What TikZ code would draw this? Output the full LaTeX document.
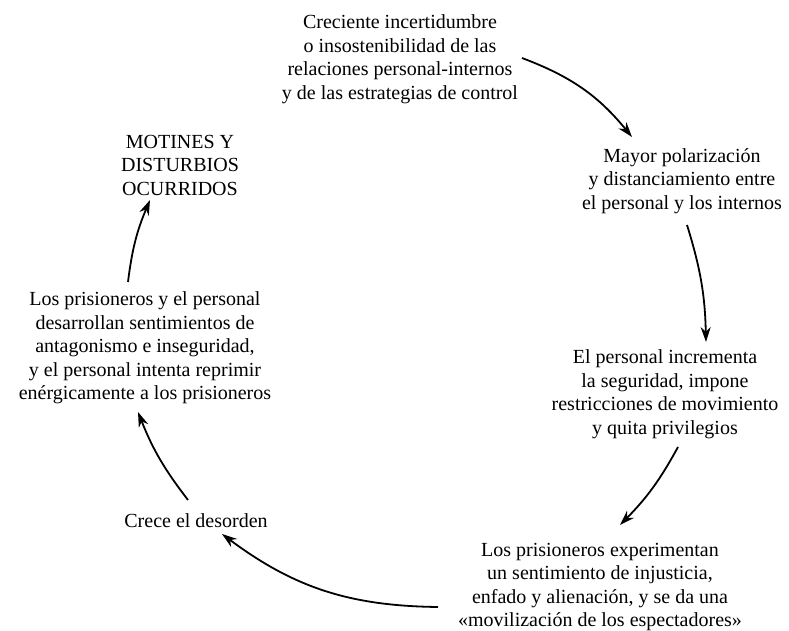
\documentclass[tikz,border=0pt]{standalone}
\usepackage{fontspec}
\setmainfont{Liberation Serif}
\usetikzlibrary{arrows.meta}
\begin{document}
\begin{tikzpicture}[x=1pt,y=1pt,
  lbl/.style={align=center,inner sep=0pt,font=\fontsize{20}{23.5}\selectfont},
  arr/.style={line width=1.8pt,-{Stealth[length=15pt,width=10pt]}}]
\useasboundingbox (0,0) rectangle (789,631);
\node[lbl] (top) at (400,572) {Creciente incertidumbre\\o insostenibilidad de las\\relaciones personal-internos\\y de las estrategias de control};
\node[lbl] (r1) at (682,450) {Mayor polarización\\y distanciamiento entre\\el personal y los internos};
\node[lbl] (r2) at (665,237) {El personal incrementa\\la seguridad, impone\\restricciones de movimiento\\y quita privilegios};
\node[lbl] (bot) at (600,44) {Los prisioneros experimentan\\un sentimiento de injusticia,\\enfado y alienación, y se da una\\«movilización de los espectadores»};
\node[lbl] (crece) at (196,110) {Crece el desorden};
\node[lbl] (left) at (145,283) {Los prisioneros y el personal\\desarrollan sentimientos de\\antagonismo e inseguridad,\\y el personal intenta reprimir\\enérgicamente a los prisioneros};
\node[lbl] (mot) at (180,466) {MOTINES Y\\DISTURBIOS\\OCURRIDOS};
\coordinate (a1) at (522,573); \coordinate (a2) at (632,494);
\coordinate (b1) at (687,406); \coordinate (b2) at (706,289);
\coordinate (c1) at (678,184); \coordinate (c2) at (620,106);
\coordinate (d1) at (438,24);  \coordinate (d2) at (222,97);
\coordinate (e1) at (188,131); \coordinate (e2) at (138,219);
\coordinate (f1) at (128,349); \coordinate (f2) at (150,431);
\draw[arr] (a1) to[bend left=15] (a2);
\draw[arr] (b1) to[bend left=8] (b2);
\draw[arr] (c1) to[bend left=8] (c2);
\draw[arr] (d1) to[bend left=18] (d2);
\draw[arr] (e1) to[bend left=8] (e2);
\draw[arr] (f1) to[bend left=8] (f2);
\end{tikzpicture}
\end{document}
